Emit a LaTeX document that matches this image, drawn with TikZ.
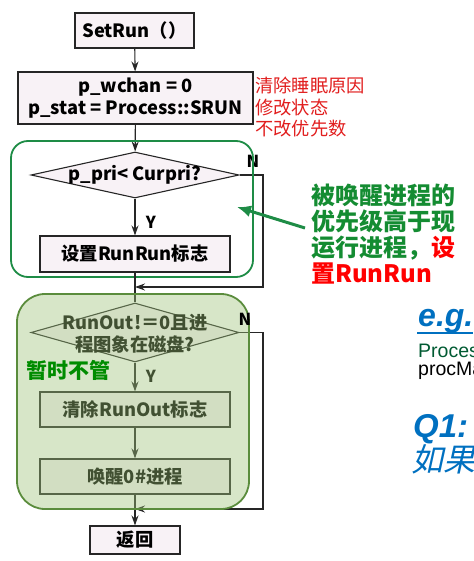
\documentclass[tikz,border=0pt]{standalone}
\usepackage{fontspec}
\setmainfont{Noto Sans CJK SC}
\newfontfamily\lat{Liberation Sans}
\newfontfamily\cjkit{Noto Sans CJK SC}[FakeSlant=0.22]
\usetikzlibrary{shapes.geometric,arrows.meta}
\definecolor{boxfill}{RGB}{248,242,246}
\definecolor{gline}{RGB}{30,140,70}
\definecolor{gtext}{RGB}{20,140,50}
\definecolor{rtext}{RGB}{225,30,30}
\definecolor{rbold}{RGB}{255,0,0}
\definecolor{ovfill}{RGB}{158,195,122}
\definecolor{ovline}{RGB}{90,140,60}
\definecolor{holdgreen}{RGB}{0,140,0}
\definecolor{blue1}{RGB}{0,112,192}
\definecolor{procgreen}{RGB}{0,90,50}
\tikzset{
  fbox/.style={draw=black!85, line width=1.1pt, fill=boxfill, inner sep=0pt, align=center,
    font=\fontsize{18.3}{22}\selectfont\bfseries},
  fdia/.style={diamond, draw=black!85, line width=1.1pt, fill=boxfill, inner sep=0pt},
  ftxt/.style={inner sep=0pt, align=center, font=\fontsize{18.3}{22}\selectfont\bfseries},
  flow/.style={draw=black!85, line width=1.1pt, -{Stealth[length=10pt,width=7pt]}},
  plain/.style={draw=black!85, line width=1.1pt},
  yn/.style={inner sep=0pt, font=\fontsize{16.5}{18}\selectfont\bfseries},
}
\begin{document}
\begin{tikzpicture}[x=1pt,y=-1pt]
\useasboundingbox (0,0) rectangle (473,561);
\clip (0,0) rectangle (473,561);
% top part
\node[fbox, minimum width=119pt, minimum height=35pt] (setrun) at (134.5,30.5) {SetRun（）};
\node[fbox, minimum width=235pt, minimum height=52pt] (assign) at (135.5,98) {p\_wchan = 0\\p\_stat = Process::SRUN};
\node[anchor=north west, inner sep=0pt, align=left, text=rtext, font=\fontsize{18.3}{21.5}\selectfont] (note) at (255,77) {清除睡眠原因\\修改状态\\不改优先数};
\node[fdia, minimum width=208pt, minimum height=46pt] (d1) at (135,175) {};
\node[ftxt] (d1t) at (135,175) {p\_pri< Curpri?};
\node[yn] (y1) at (151,222) {Y};
\node[yn] (n1) at (253,161) {N};
\node[fbox, minimum width=190pt, minimum height=36pt] (setflag) at (135,254) {设置RunRun标志};
\coordinate (j1) at (135,287);
\coordinate (c1a) at (263,175);
\coordinate (c1b) at (263,287);
\draw[flow] (setrun) -- (assign);
\draw[flow] (assign) -- (d1);
\draw[flow] (d1) -- (setflag);
\draw[flow] (d1.east) -- (c1a) -- (c1b) -- (j1);
% green outline
\draw[gline, line width=1.8pt, rounded corners=17pt] (11,141) rectangle (253,277);
% lower part
\node[fdia, minimum width=208pt, minimum height=59pt] (d2) at (135,332.5) {};
\node[ftxt] (d2t) at (135,334) {RunOut!＝0且进\\程图象在磁盘?};
\draw[plain] (setflag) -- (d2);
\node[yn] (y2) at (151,376) {Y};
\node[fbox, minimum width=190pt, minimum height=35pt] (clear) at (135,409.5) {清除RunOut标志};
\node[fbox, minimum width=190pt, minimum height=35pt] (wake) at (135,476.5) {唤醒0\#进程};
\node[fbox, minimum width=90pt, minimum height=28pt] (ret) at (135,540) {返回};
\coordinate (j2) at (135,509);
\coordinate (c2a) at (263,332.5);
\coordinate (c2b) at (263,509);
\draw[flow] (d2) -- (clear);
\draw[flow] (clear) -- (wake);
\draw[flow] (wake) -- (ret);
\draw[flow] (d2.east) -- (c2a) -- (c2b) -- (j2);
% overlay
\fill[ovfill, fill opacity=0.41, rounded corners=28pt] (17,294) rectangle (249,509);
\draw[ovline, line width=1.8pt, rounded corners=28pt] (17,294) rectangle (249,509);
\node[yn] (n2) at (245,319) {N};
\node[anchor=west, inner sep=0pt, text=holdgreen, font=\fontsize{21}{24}\selectfont\bfseries] (hold) at (26,370) {暂时不管};
% callout
\node[anchor=north west, inner sep=0pt, align=left, text=gtext, font=\fontsize{24}{26}\selectfont\bfseries] (callout) at (311,184) {被唤醒进程的\\优先级高于现\\运行进程，\textcolor{rbold}{设}\\\textcolor{rbold}{置RunRun}};
\coordinate (ctip) at (237,207);
\draw[gline, line width=3pt, -{Latex[length=14pt,width=12pt]}] (305,228) -- (ctip);
% right side
\node[anchor=base west, inner sep=0pt, text=blue1, font=\lat\fontsize{32}{33}\selectfont\bfseries\itshape] (eg) at (418,326) {e.g.};
\draw[blue1, line width=2pt] (417,333) -- (473,333);
\node[anchor=base west, inner sep=0pt, text=procgreen, font=\lat\fontsize{19.5}{22}\selectfont] (proc1) at (418,357) {Process};
\node[anchor=base west, inner sep=0pt, text=black, font=\lat\fontsize{19.5}{22}\selectfont] (proc2) at (418,375) {procManager};
\node[anchor=base west, inner sep=0pt, text=blue1, font=\lat\fontsize{33}{34}\selectfont\bfseries\itshape] (q1) at (413,437) {Q1:};
\node[anchor=base west, inner sep=0pt, text=blue1, font=\cjkit\fontsize{32}{34}\selectfont] (ifx) at (411,471) {如果};
\end{tikzpicture}
\end{document}
